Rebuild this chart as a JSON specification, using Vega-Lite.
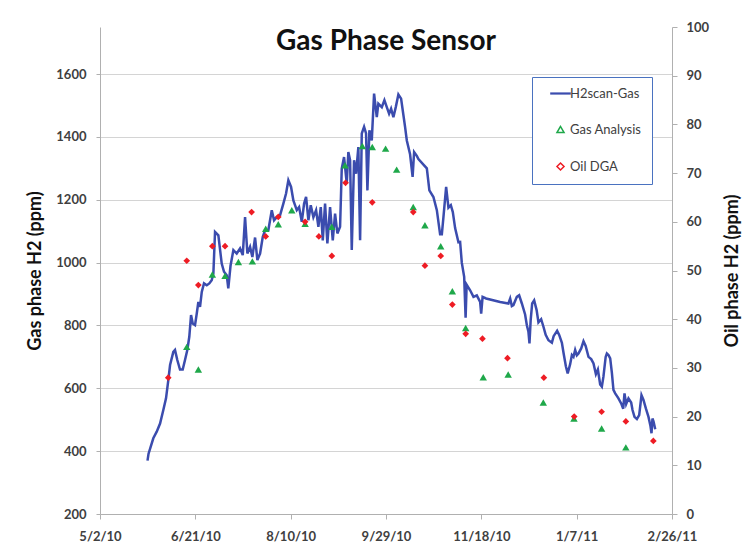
{
  "$schema": "https://vega.github.io/schema/vega-lite/v6.json",
  "width": 572,
  "height": 487,
  "autosize": {"type": "none"},
  "padding": {"left": 100, "top": 27, "right": 78, "bottom": 39},
  "background": "white",
  "title": {"text": "Gas Phase Sensor", "font": "Lato", "fontSize": 28, "fontWeight": "bold", "color": "#111111", "anchor": "middle", "frame": "group", "offset": -35},
  "config": {
    "view": {"stroke": null},
    "font": "Lato",
    "axis": {
      "labelFont": "Lato", "labelFontSize": 13, "labelFontWeight": "bold", "labelColor": "#404040",
      "titleFont": "Lato", "titleFontSize": 18, "titleFontWeight": "bold", "titleColor": "#111111",
      "domainColor": "#b0b0b0", "tickColor": "#b0b0b0", "gridColor": "#d4d4d4", "tickSize": 5
    }
  },
  "datasets": {
    "sensor": [
      {"date": "2010-05-26T22:00", "value": 370},
      {"date": "2010-05-27T11:00", "value": 392},
      {"date": "2010-05-29T23:00", "value": 441},
      {"date": "2010-05-31T18:00", "value": 462},
      {"date": "2010-06-02T12:00", "value": 488},
      {"date": "2010-06-04T05:00", "value": 531},
      {"date": "2010-06-05T15:00", "value": 568},
      {"date": "2010-06-06T20:00", "value": 626},
      {"date": "2010-06-07T18:00", "value": 674},
      {"date": "2010-06-09T11:00", "value": 716},
      {"date": "2010-06-10T08:00", "value": 722},
      {"date": "2010-06-11T13:00", "value": 690},
      {"date": "2010-06-12T23:00", "value": 660},
      {"date": "2010-06-14T09:00", "value": 660},
      {"date": "2010-06-15T14:00", "value": 690},
      {"date": "2010-06-16T19:00", "value": 722},
      {"date": "2010-06-17T20:00", "value": 764},
      {"date": "2010-06-18T18:00", "value": 833},
      {"date": "2010-06-19T15:00", "value": 806},
      {"date": "2010-06-20T20:00", "value": 801},
      {"date": "2010-06-21T18:00", "value": 838},
      {"date": "2010-06-22T14:00", "value": 875},
      {"date": "2010-06-23T11:00", "value": 859},
      {"date": "2010-06-24T09:00", "value": 907},
      {"date": "2010-06-25T13:00", "value": 934},
      {"date": "2010-06-27T00:00", "value": 928},
      {"date": "2010-06-28T08:00", "value": 934},
      {"date": "2010-06-29T14:00", "value": 944},
      {"date": "2010-06-30T11:00", "value": 965},
      {"date": "2010-07-01T08:00", "value": 1098},
      {"date": "2010-07-03T02:00", "value": 1087},
      {"date": "2010-07-04T20:00", "value": 997},
      {"date": "2010-07-06T01:00", "value": 971},
      {"date": "2010-07-07T11:00", "value": 960},
      {"date": "2010-07-08T07:00", "value": 918},
      {"date": "2010-07-09T11:00", "value": 990},
      {"date": "2010-07-10T23:00", "value": 1040},
      {"date": "2010-07-12T17:00", "value": 1029},
      {"date": "2010-07-14T11:00", "value": 1045},
      {"date": "2010-07-15T21:00", "value": 1024},
      {"date": "2010-07-17T02:00", "value": 1145},
      {"date": "2010-07-18T07:00", "value": 1029},
      {"date": "2010-07-19T17:00", "value": 1050},
      {"date": "2010-07-20T22:00", "value": 1018},
      {"date": "2010-07-22T08:00", "value": 1080},
      {"date": "2010-07-23T13:00", "value": 1008},
      {"date": "2010-07-24T23:00", "value": 1029},
      {"date": "2010-07-26T09:00", "value": 1082},
      {"date": "2010-07-27T14:00", "value": 1103},
      {"date": "2010-07-29T07:00", "value": 1103},
      {"date": "2010-07-31T02:00", "value": 1167},
      {"date": "2010-08-01T07:00", "value": 1135},
      {"date": "2010-08-02T17:00", "value": 1145},
      {"date": "2010-08-04T11:00", "value": 1151},
      {"date": "2010-08-06T04:00", "value": 1188},
      {"date": "2010-08-07T14:00", "value": 1220},
      {"date": "2010-08-08T19:00", "value": 1262},
      {"date": "2010-08-10T05:00", "value": 1241},
      {"date": "2010-08-11T10:00", "value": 1198},
      {"date": "2010-08-13T05:00", "value": 1167},
      {"date": "2010-08-14T10:00", "value": 1177},
      {"date": "2010-08-15T20:00", "value": 1130},
      {"date": "2010-08-17T01:00", "value": 1188},
      {"date": "2010-08-18T02:00", "value": 1209},
      {"date": "2010-08-19T07:00", "value": 1135},
      {"date": "2010-08-20T13:00", "value": 1183},
      {"date": "2010-08-21T22:00", "value": 1145},
      {"date": "2010-08-23T08:00", "value": 1167},
      {"date": "2010-08-24T13:00", "value": 1114},
      {"date": "2010-08-25T19:00", "value": 1177},
      {"date": "2010-08-26T20:00", "value": 1071},
      {"date": "2010-08-28T01:00", "value": 1188},
      {"date": "2010-08-29T06:00", "value": 1061},
      {"date": "2010-08-30T16:00", "value": 1177},
      {"date": "2010-09-01T02:00", "value": 1071},
      {"date": "2010-09-02T07:00", "value": 1156},
      {"date": "2010-09-03T12:00", "value": 1093},
      {"date": "2010-09-04T22:00", "value": 1114},
      {"date": "2010-09-05T19:00", "value": 1299},
      {"date": "2010-09-07T00:00", "value": 1336},
      {"date": "2010-09-08T10:00", "value": 1252},
      {"date": "2010-09-09T06:00", "value": 1352},
      {"date": "2010-09-10T04:00", "value": 1326},
      {"date": "2010-09-11T01:00", "value": 1040},
      {"date": "2010-09-12T06:00", "value": 1326},
      {"date": "2010-09-13T07:00", "value": 1283},
      {"date": "2010-09-14T12:00", "value": 1368},
      {"date": "2010-09-15T10:00", "value": 1071},
      {"date": "2010-09-16T07:00", "value": 1411},
      {"date": "2010-09-17T12:00", "value": 1432},
      {"date": "2010-09-18T13:00", "value": 1411},
      {"date": "2010-09-19T06:00", "value": 1230},
      {"date": "2010-09-20T07:00", "value": 1421},
      {"date": "2010-09-21T13:00", "value": 1389},
      {"date": "2010-09-22T18:00", "value": 1538},
      {"date": "2010-09-24T04:00", "value": 1463},
      {"date": "2010-09-25T00:00", "value": 1506},
      {"date": "2010-09-26T19:00", "value": 1495},
      {"date": "2010-09-28T04:00", "value": 1517},
      {"date": "2010-09-29T10:00", "value": 1495},
      {"date": "2010-09-30T15:00", "value": 1474},
      {"date": "2010-10-01T16:00", "value": 1490},
      {"date": "2010-10-02T21:00", "value": 1463},
      {"date": "2010-10-04T03:00", "value": 1495},
      {"date": "2010-10-05T12:00", "value": 1535},
      {"date": "2010-10-06T22:00", "value": 1522},
      {"date": "2010-10-08T03:00", "value": 1470},
      {"date": "2010-10-09T00:00", "value": 1432},
      {"date": "2010-10-09T22:00", "value": 1389},
      {"date": "2010-10-11T15:00", "value": 1345},
      {"date": "2010-10-12T23:00", "value": 1273},
      {"date": "2010-10-13T18:00", "value": 1352},
      {"date": "2010-10-15T04:00", "value": 1340},
      {"date": "2010-10-16T00:00", "value": 1330},
      {"date": "2010-10-20T10:00", "value": 1300},
      {"date": "2010-10-21T18:00", "value": 1230},
      {"date": "2010-10-23T21:00", "value": 1209},
      {"date": "2010-10-25T16:00", "value": 1167},
      {"date": "2010-10-27T09:00", "value": 1090},
      {"date": "2010-10-28T07:00", "value": 1090},
      {"date": "2010-10-29T03:00", "value": 1145},
      {"date": "2010-10-30T13:00", "value": 1241},
      {"date": "2010-10-31T18:00", "value": 1175},
      {"date": "2010-11-02T00:00", "value": 1183},
      {"date": "2010-11-03T01:00", "value": 1161},
      {"date": "2010-11-04T06:00", "value": 1110},
      {"date": "2010-11-06T00:00", "value": 1065},
      {"date": "2010-11-06T21:00", "value": 1066},
      {"date": "2010-11-07T18:00", "value": 1000},
      {"date": "2010-11-09T00:00", "value": 955},
      {"date": "2010-11-09T18:00", "value": 825},
      {"date": "2010-11-10T07:00", "value": 930},
      {"date": "2010-11-12T03:00", "value": 912},
      {"date": "2010-11-13T21:00", "value": 891},
      {"date": "2010-11-15T15:00", "value": 896},
      {"date": "2010-11-17T09:00", "value": 875},
      {"date": "2010-11-17T22:00", "value": 838},
      {"date": "2010-11-18T16:00", "value": 891},
      {"date": "2010-11-20T12:00", "value": 886},
      {"date": "2010-11-27T21:00", "value": 875},
      {"date": "2010-12-02T05:00", "value": 870},
      {"date": "2010-12-03T03:00", "value": 886},
      {"date": "2010-12-04T00:00", "value": 862},
      {"date": "2010-12-04T20:00", "value": 865},
      {"date": "2010-12-06T15:00", "value": 891},
      {"date": "2010-12-07T20:00", "value": 896},
      {"date": "2010-12-09T06:00", "value": 870},
      {"date": "2010-12-10T23:00", "value": 835},
      {"date": "2010-12-11T21:00", "value": 801},
      {"date": "2010-12-12T17:00", "value": 780},
      {"date": "2010-12-13T06:00", "value": 743},
      {"date": "2010-12-13T21:00", "value": 817},
      {"date": "2010-12-14T16:00", "value": 870},
      {"date": "2010-12-15T17:00", "value": 880},
      {"date": "2010-12-17T00:00", "value": 849},
      {"date": "2010-12-17T23:00", "value": 810},
      {"date": "2010-12-19T09:00", "value": 820},
      {"date": "2010-12-20T14:00", "value": 796},
      {"date": "2010-12-21T18:00", "value": 770},
      {"date": "2010-12-23T05:00", "value": 753},
      {"date": "2010-12-25T00:00", "value": 745},
      {"date": "2010-12-25T22:00", "value": 766},
      {"date": "2010-12-27T18:00", "value": 783},
      {"date": "2010-12-28T20:00", "value": 770},
      {"date": "2010-12-30T06:00", "value": 745},
      {"date": "2010-12-31T04:00", "value": 711},
      {"date": "2011-01-01T08:00", "value": 670},
      {"date": "2011-01-02T07:00", "value": 647},
      {"date": "2011-01-03T14:00", "value": 677},
      {"date": "2011-01-04T12:00", "value": 706},
      {"date": "2011-01-05T08:00", "value": 700},
      {"date": "2011-01-06T05:00", "value": 722},
      {"date": "2011-01-07T02:00", "value": 705},
      {"date": "2011-01-07T23:00", "value": 711},
      {"date": "2011-01-09T09:00", "value": 727},
      {"date": "2011-01-10T14:00", "value": 750},
      {"date": "2011-01-11T17:00", "value": 735},
      {"date": "2011-01-13T05:00", "value": 700},
      {"date": "2011-01-14T15:00", "value": 693},
      {"date": "2011-01-15T20:00", "value": 679},
      {"date": "2011-01-17T02:00", "value": 645},
      {"date": "2011-01-18T03:00", "value": 660},
      {"date": "2011-01-19T08:00", "value": 612},
      {"date": "2011-01-20T05:00", "value": 605},
      {"date": "2011-01-21T01:00", "value": 637},
      {"date": "2011-01-22T05:00", "value": 700},
      {"date": "2011-01-22T20:00", "value": 711},
      {"date": "2011-01-23T16:00", "value": 706},
      {"date": "2011-01-24T14:00", "value": 695},
      {"date": "2011-01-25T11:00", "value": 650},
      {"date": "2011-01-26T07:00", "value": 595},
      {"date": "2011-01-27T05:00", "value": 584},
      {"date": "2011-01-28T22:00", "value": 568},
      {"date": "2011-01-30T08:00", "value": 552},
      {"date": "2011-01-31T10:00", "value": 535},
      {"date": "2011-02-01T02:00", "value": 584},
      {"date": "2011-02-01T23:00", "value": 550},
      {"date": "2011-02-03T04:00", "value": 568},
      {"date": "2011-02-04T14:00", "value": 555},
      {"date": "2011-02-05T07:00", "value": 531},
      {"date": "2011-02-06T08:00", "value": 509},
      {"date": "2011-02-07T14:00", "value": 502},
      {"date": "2011-02-08T19:00", "value": 515},
      {"date": "2011-02-10T00:00", "value": 578},
      {"date": "2011-02-11T01:00", "value": 563},
      {"date": "2011-02-12T07:00", "value": 536},
      {"date": "2011-02-13T16:00", "value": 509},
      {"date": "2011-02-14T17:00", "value": 480},
      {"date": "2011-02-15T06:00", "value": 457},
      {"date": "2011-02-15T18:00", "value": 504},
      {"date": "2011-02-16T07:00", "value": 495},
      {"date": "2011-02-17T05:00", "value": 470}
    ],
    "gas": [
      {"date": "2010-06-16T12:00", "value": 732},
      {"date": "2010-06-22T14:00", "value": 660},
      {"date": "2010-06-29T22:00", "value": 962},
      {"date": "2010-07-06T14:00", "value": 958},
      {"date": "2010-07-13T14:00", "value": 1002},
      {"date": "2010-07-20T22:00", "value": 1004},
      {"date": "2010-07-27T22:00", "value": 1108},
      {"date": "2010-08-03T12:00", "value": 1122},
      {"date": "2010-08-10T14:00", "value": 1167},
      {"date": "2010-08-17T14:00", "value": 1124},
      {"date": "2010-08-31T14:00", "value": 1114},
      {"date": "2010-09-07T12:00", "value": 1310},
      {"date": "2010-09-16T14:00", "value": 1371},
      {"date": "2010-09-21T19:00", "value": 1368},
      {"date": "2010-09-28T19:00", "value": 1363},
      {"date": "2010-10-04T14:00", "value": 1296},
      {"date": "2010-10-13T07:00", "value": 1177},
      {"date": "2010-10-19T10:00", "value": 1119},
      {"date": "2010-10-27T17:00", "value": 1052},
      {"date": "2010-11-02T19:00", "value": 909},
      {"date": "2010-11-09T19:00", "value": 792},
      {"date": "2010-11-19T00:00", "value": 635},
      {"date": "2010-12-02T02:00", "value": 644},
      {"date": "2010-12-20T12:00", "value": 555},
      {"date": "2011-01-05T14:00", "value": 504},
      {"date": "2011-01-20T02:00", "value": 472},
      {"date": "2011-02-01T19:00", "value": 412}
    ],
    "oil": [
      {"date": "2010-06-06T19:00", "value": 28},
      {"date": "2010-06-16T12:00", "value": 52},
      {"date": "2010-06-22T14:00", "value": 47},
      {"date": "2010-06-29T22:00", "value": 55},
      {"date": "2010-07-06T14:00", "value": 55},
      {"date": "2010-07-20T12:00", "value": 62},
      {"date": "2010-07-27T22:00", "value": 57},
      {"date": "2010-08-03T12:00", "value": 61},
      {"date": "2010-08-17T14:00", "value": 60},
      {"date": "2010-08-24T19:00", "value": 57},
      {"date": "2010-08-31T14:00", "value": 53},
      {"date": "2010-09-07T19:00", "value": 68},
      {"date": "2010-09-21T19:00", "value": 64},
      {"date": "2010-10-13T07:00", "value": 62},
      {"date": "2010-10-19T10:00", "value": 51},
      {"date": "2010-10-27T17:00", "value": 53},
      {"date": "2010-11-02T19:00", "value": 43},
      {"date": "2010-11-09T19:00", "value": 37},
      {"date": "2010-11-18T14:00", "value": 36},
      {"date": "2010-12-01T17:00", "value": 32},
      {"date": "2010-12-20T19:00", "value": 28},
      {"date": "2011-01-05T17:00", "value": 20},
      {"date": "2011-01-20T02:00", "value": 21},
      {"date": "2011-02-01T19:00", "value": 19},
      {"date": "2011-02-16T05:00", "value": 15}
    ],
    "legendItems": [
      {"series": "H2scan-Gas"},
      {"series": "Gas Analysis"},
      {"series": "Oil DGA"}
    ]
  },
  "layer": [
    {
      "layer": [
        {
          "data": {"name": "sensor"},
          "mark": {"type": "line", "strokeWidth": 2.5, "color": "#3b4cae"},
          "encoding": {
            "x": {
              "field": "date", "type": "temporal",
              "scale": {"domain": [{"year": 2010, "month": 5, "date": 2}, {"year": 2011, "month": 2, "date": 26}]},
              "axis": {
                "values": [
                  {"year": 2010, "month": 5, "date": 2},
                  {"year": 2010, "month": 6, "date": 21},
                  {"year": 2010, "month": 8, "date": 10},
                  {"year": 2010, "month": 9, "date": 29},
                  {"year": 2010, "month": 11, "date": 18},
                  {"year": 2011, "month": 1, "date": 7},
                  {"year": 2011, "month": 2, "date": 26}
                ],
                "format": "%-m/%-d/%y", "title": null, "grid": false,
                "labelPadding": 11, "labelFlush": false, "labelOverlap": false
              }
            },
            "y": {
              "field": "value", "type": "quantitative",
              "scale": {"domain": [200, 1750], "nice": false, "zero": false},
              "axis": {
                "orient": "left", "values": [200, 400, 600, 800, 1000, 1200, 1400, 1600],
                "format": "d",
                "title": "Gas phase H2 (ppm)", "grid": true, "tickSize": 4,
                "labelPadding": 10, "titlePadding": 11
              }
            }
          }
        },
        {
          "data": {"name": "gas"},
          "mark": {"type": "point", "filled": true, "size": 55, "opacity": 1, "shape": "triangle-up", "color": "#1fa84a"},
          "encoding": {
            "x": {"field": "date", "type": "temporal"},
            "y": {"field": "value", "type": "quantitative"}
          }
        }
      ]
    },
    {
      "layer": [
        {
          "data": {"name": "oil"},
          "mark": {"type": "point", "filled": true, "size": 45, "opacity": 1, "shape": "diamond", "color": "#ee1c24"},
          "encoding": {
            "x": {"field": "date", "type": "temporal"},
            "y": {
              "field": "value", "type": "quantitative",
              "scale": {"domain": [0, 100], "nice": false},
              "axis": {
                "orient": "right", "values": [0, 10, 20, 30, 40, 50, 60, 70, 80, 90, 100],
                "title": "Oil phase H2 (ppm)", "grid": false, "titleAngle": 270, "titleBaseline": "top",
                "labelPadding": 9, "titlePadding": 15
              }
            }
          }
        },
        {
          "data": {"name": "legendItems"},
          "mark": {"type": "point", "opacity": 0},
          "encoding": {
            "color": {
              "field": "series", "type": "nominal",
              "scale": {"domain": ["H2scan-Gas", "Gas Analysis", "Oil DGA"], "range": ["#3b4cae", "#1fa84a", "#ee1c24"]},
              "legend": {
                "orient": "none", "legendX": 432, "legendY": 50, "title": null,
                "padding": 10, "symbolOffset": 12, "labelOffset": 3, "rowPadding": 22,
                "symbolSize": 50, "labelFont": "Lato", "labelFontSize": 13, "labelColor": "#404040",
                "strokeColor": "#4a72c0", "fillColor": "white",
                "labelExpr": "datum.label + '\u00a0\u00a0\u00a0\u00a0\u00a0\u00a0\u00a0'",
                "encode": {
                  "legend": {"strokeWidth": {"value": 2}},
                  "symbols": {"opacity": {"value": 1}, "strokeWidth": {"value": 2}}
                }
              }
            },
            "shape": {
              "field": "series", "type": "nominal",
              "scale": {"domain": ["H2scan-Gas", "Gas Analysis", "Oil DGA"], "range": ["M-2.7,-0.1H2.7V0.1H-2.7Z", "triangle-up", "diamond"]}
            }
          }
        }
      ]
    }
  ],
  "resolve": {"scale": {"y": "independent"}}
}
